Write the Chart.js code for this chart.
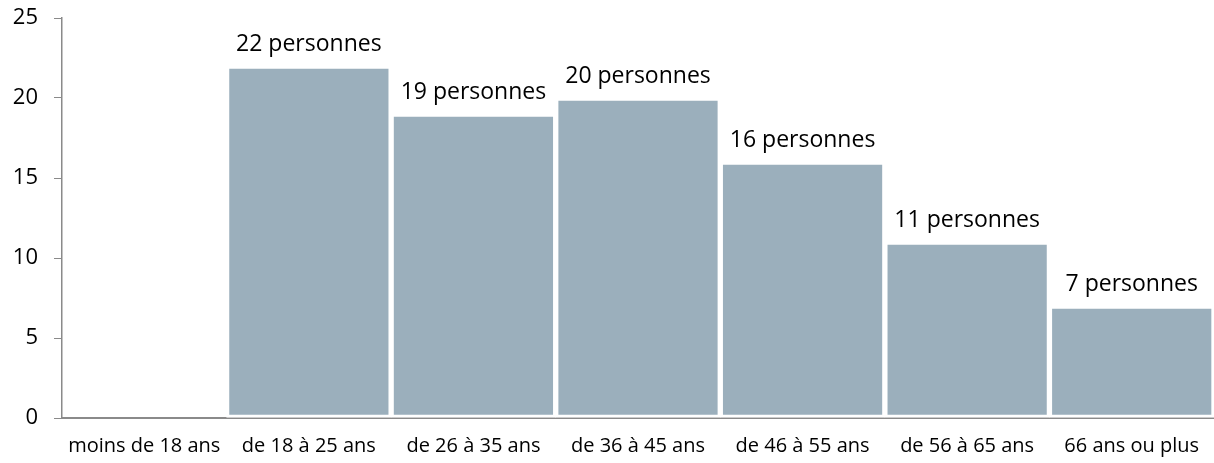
<!DOCTYPE html>
<html><head><meta charset="utf-8">
<script src="https://cdn.jsdelivr.net/npm/chart.js@4/dist/chart.umd.min.js"></script>
<style>html,body{margin:0;padding:0;background:#fff}#wrap{width:1214px;height:463px}</style>
</head><body><div id="wrap"><canvas id="c"></canvas></div>
<script>
const categories = ["moins de 18 ans","de 18 à 25 ans","de 26 à 35 ans","de 36 à 45 ans","de 46 à 55 ans","de 56 à 65 ans","66 ans ou plus"];
const values = [0,22,19,20,16,11,7];
const pointLabels = ["","22 personnes","19 personnes","20 personnes","16 personnes","11 personnes","7 personnes"];
const yTicks = [0,5,10,15,20,25];

const FONT = "'Open Sans', sans-serif";
const labelPlugin = {
  id:'lbl',
  afterDatasetsDraw(chart){
    const ctx = chart.ctx;
    const meta = chart.getDatasetMeta(0);
    ctx.save();
    ctx.font = "23px " + FONT;
    ctx.fillStyle = "#000";
    ctx.textAlign = "center";
    ctx.textBaseline = "alphabetic";
    meta.data.forEach((bar,i)=>{
      if(!pointLabels[i]) return;
      ctx.fillText(pointLabels[i], bar.x, bar.y - 15);
    });
    ctx.restore();
  }
};

new Chart(document.getElementById('c'),{
  type:'bar',
  data:{labels:categories,datasets:[{data:values,backgroundColor:'#9BAFBC',borderColor:'#ffffff',borderWidth:3,borderSkipped:false,categoryPercentage:1,barPercentage:1}]},
  options:{
    responsive:true,maintainAspectRatio:false,animation:false,
    layout:{padding:{top:18,right:0,left:0,bottom:0}},
    plugins:{legend:{display:false},tooltip:{enabled:false}},
    scales:{
      x:{
        grid:{display:false},
        border:{color:'#8a8a8a',width:2},
        ticks:{color:'#000',font:{size:20,family:FONT},padding:8,maxRotation:0,autoSkip:false},
        afterFit(s){s.height=45;s.paddingLeft=0;s.paddingRight=0;}
      },
      y:{
        min:0,max:25,
        afterBuildTicks(s){s.ticks=yTicks.map(v=>({value:v}));},
        grid:{display:true,drawOnChartArea:false,drawTicks:true,tickLength:8,color:'#8a8a8a'},
        border:{color:'#8a8a8a',width:1.5},
        ticks:{color:'#000',font:{size:22,family:FONT},padding:16},
        afterFit(s){s.width=62;s.paddingTop=0;s.paddingBottom=0;}
      }
    }
  },
  plugins:[labelPlugin]
});
</script></body></html>
